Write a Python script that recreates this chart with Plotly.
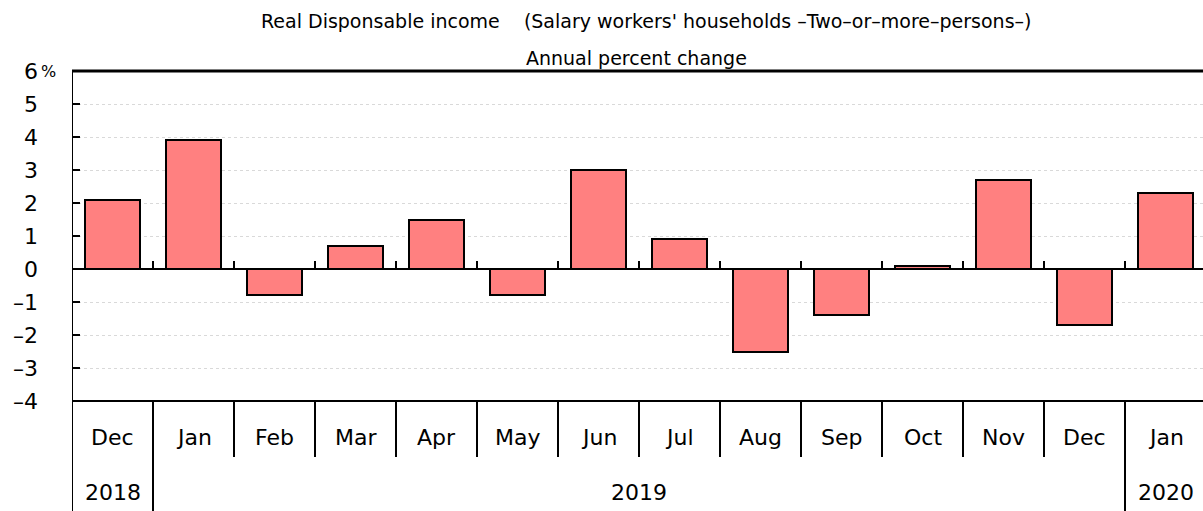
import plotly.graph_objects as go

months = ["Dec", "Jan", "Feb", "Mar", "Apr", "May", "Jun", "Jul", "Aug", "Sep", "Oct", "Nov", "Dec", "Jan"]
values = [2.1, 3.9, -0.8, 0.7, 1.5, -0.8, 3.0, 0.9, -2.5, -1.4, 0.1, 2.7, -1.7, 2.3]
years = ["2018", "2019", "2020"]
year_spans = [(0, 0), (1, 12), (13, 13)]
y_ticks = [-4, -3, -2, -1, 0, 1, 2, 3, 4, 5, 6]

FONT = "DejaVu Sans"
xs = list(range(len(months)))

fig = go.Figure()
fig.add_trace(go.Bar(
    x=xs, y=values, width=0.67,
    marker=dict(color="#FF8080", line=dict(color="black", width=2)),
    hoverinfo="skip",
))

W, H = 1203, 511
ml, mt, mb = 72, 71, 110
plot_h = H - mt - mb
pw = W - ml
row_h = 56 / plot_h

shapes = []
shapes.append(dict(type="line", xref="paper", yref="y", x0=0, x1=1, y0=0, y1=0,
                   line=dict(color="black", width=2)))
shapes.append(dict(type="line", xref="paper", yref="paper", x0=0, x1=1, y0=1, y1=1,
                   line=dict(color="black", width=3)))
shapes.append(dict(type="line", xref="paper", yref="paper", x0=0, x1=1, y0=0, y1=0,
                   line=dict(color="black", width=2)))
shapes.append(dict(type="line", xref="x", yref="paper", x0=-0.5, x1=-0.5, y0=1, y1=-2 * row_h - 0.01,
                   line=dict(color="black", width=2)))
for k in range(len(months) - 1):
    xb = k + 0.5
    shapes.append(dict(type="line", xref="x", yref="y", x0=xb, x1=xb, y0=0, y1=8 / 33,
                       line=dict(color="black", width=2)))
    shapes.append(dict(type="line", xref="x", yref="paper", x0=xb, x1=xb, y0=0, y1=-row_h,
                       line=dict(color="black", width=2)))
for s, e in year_spans[:-1]:
    xb = e + 0.5
    shapes.append(dict(type="line", xref="x", yref="paper", x0=xb, x1=xb, y0=-row_h, y1=-2 * row_h - 0.01,
                       line=dict(color="black", width=2)))

annotations = []
for i, m in enumerate(months):
    annotations.append(dict(x=i, y=-36 / plot_h, xref="x", yref="paper", text=m, showarrow=False,
                            font=dict(family=FONT, size=22, color="black"), yanchor="middle"))
for (s, e), yr in zip(year_spans, years):
    annotations.append(dict(x=(s + e) / 2, y=-91 / plot_h, xref="x", yref="paper", text=yr, showarrow=False,
                            font=dict(family=FONT, size=22, color="black"), yanchor="middle"))
annotations.append(dict(x=(646 - ml) / pw, y=1 + (mt - 21) / plot_h, xref="paper", yref="paper",
                        text="Real Disponsable income\u00a0\u00a0\u00a0\u00a0(Salary workers' households \u2013Two\u2013or\u2013more\u2013persons\u2013)",
                        showarrow=False, font=dict(family=FONT, size=19, color="black"), yanchor="middle"))
annotations.append(dict(x=(636 - ml) / pw, y=1 + (mt - 58) / plot_h, xref="paper", yref="paper",
                        text="Annual percent change",
                        showarrow=False, font=dict(family=FONT, size=19, color="black"), yanchor="middle"))
annotations.append(dict(x=(48 - ml) / pw, y=1, xref="paper", yref="paper", text="%", showarrow=False,
                        font=dict(family=FONT, size=16, color="black"), xanchor="center", yanchor="middle"))

fig.update_layout(
    width=W, height=H,
    margin=dict(l=ml, r=0, t=mt, b=mb, pad=0),
    plot_bgcolor="white", paper_bgcolor="white",
    showlegend=False,
    bargap=0,
    shapes=shapes,
    annotations=annotations,
    xaxis=dict(range=[-0.5, 13.5 - 3 / 81], showticklabels=False, showgrid=False, zeroline=False,
               ticks="", showline=False, fixedrange=True),
    yaxis=dict(range=[-4, 6], tickvals=y_ticks, ticktext=[f"{v}".replace("-", "\u2013") for v in y_ticks],
               ticks="inside", ticklen=8, tickwidth=2, tickcolor="black",
               showgrid=True, gridcolor="#d9d9d9", griddash="dot", gridwidth=1,
               zeroline=False, showline=False, ticklabelstandoff=33,
               tickfont=dict(family=FONT, size=22, color="black"), fixedrange=True),
)

fig.write_html("out.html")
